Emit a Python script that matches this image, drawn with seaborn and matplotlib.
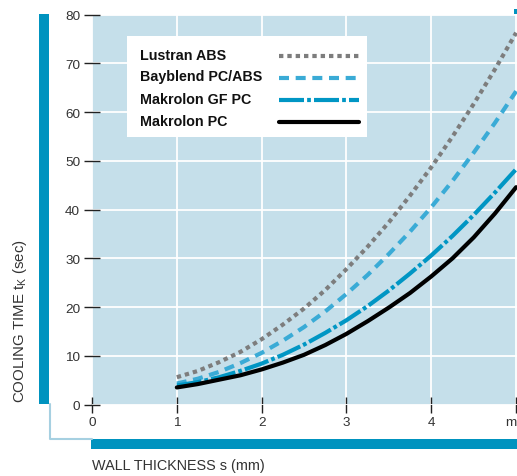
import numpy as np
import pandas as pd
import seaborn as sns
import matplotlib
matplotlib.use("Agg")
import matplotlib.pyplot as plt
from matplotlib.patches import Rectangle
from matplotlib.lines import Line2D

# Wall thickness s (mm) and cooling time t_K (sec) per material
thickness = [1.0, 1.25, 1.5, 1.75, 2.0, 2.25, 2.5, 2.75, 3.0,
             3.25, 3.5, 3.75, 4.0, 4.25, 4.5, 4.75, 5.0]
lustran_abs = [5.6, 6.9, 8.7, 10.8, 13.4, 16.4, 19.7, 23.5, 27.8,
               32.4, 37.4, 42.9, 48.7, 55.0, 61.7, 68.8, 76.3]
bayblend_pc_abs = [4.3, 5.3, 6.7, 8.5, 10.6, 13.1, 15.9, 19.1, 22.7,
                   26.6, 30.9, 35.5, 40.5, 45.9, 51.7, 57.8, 64.3]
makrolon_gf_pc = [3.9, 4.6, 5.6, 6.9, 8.4, 10.2, 12.3, 14.7, 17.3,
                  20.2, 23.4, 26.9, 30.6, 34.6, 38.9, 43.5, 48.3]
makrolon_pc = [3.5, 4.2, 5.1, 6.0, 7.2, 8.6, 10.2, 12.2, 14.5,
               17.1, 19.9, 22.9, 26.3, 30.0, 34.3, 39.2, 44.6]

materials = ["Lustran ABS", "Bayblend PC/ABS", "Makrolon GF PC", "Makrolon PC"]
series = [lustran_abs, bayblend_pc_abs, makrolon_gf_pc, makrolon_pc]

x_ticks = [0, 1, 2, 3, 4, 5]
x_tick_labels = ["0", "1", "2", "3", "4", "mm"]
y_ticks = [0, 10, 20, 30, 40, 50, 60, 70, 80]

df = pd.concat(
    [pd.DataFrame({"s": thickness, "t": vals, "material": name})
     for name, vals in zip(materials, series)],
    ignore_index=True,
)

sns.set_style("white")
plt.rcParams["font.family"] = ["Liberation Sans", "DejaVu Sans"]
plt.rcParams["lines.dash_capstyle"] = "butt"

TEXT = "#333333"
BG = "#c5dfea"
BAR = "#0093bf"
THIN = "#a6d0e1"

palette = {
    "Lustran ABS": "#7d7d7d",
    "Bayblend PC/ABS": "#3aabd6",
    "Makrolon GF PC": "#0096c4",
    "Makrolon PC": "#000000",
}
dashes = {
    "Lustran ABS": (1.05, 0.95),
    "Bayblend PC/ABS": (2.4, 1.6),
    "Makrolon GF PC": (6.0, 0.75, 0.9, 0.75),
    "Makrolon PC": "",
}
lw = 3.0

W, H = 517, 477
fig = plt.figure(figsize=(W / 100, H / 100), dpi=100)
ax = fig.add_axes([92 / W, (H - 405.5) / H, (W - 92) / W, (405.5 - 15.7) / H])
ax.set_facecolor(BG)

sns.lineplot(data=df, x="s", y="t", hue="material", style="material",
             palette=palette, dashes=dashes, linewidth=lw, legend=False,
             ax=ax, zorder=3)

ax.set_xlim(0, 5.01)
ax.set_ylim(0, 80)
ax.set_xticks(x_ticks)
ax.set_xticklabels(x_tick_labels)
ax.set_yticks(y_ticks)
ax.grid(True, color="white", linewidth=1.3)
ax.set_axisbelow(True)
for sp in ax.spines.values():
    sp.set_visible(False)
ax.tick_params(axis="both", direction="inout", length=11, width=1.0,
               color="#222222", labelcolor=TEXT, labelsize=9.7,
               bottom=True, left=True)
ax.tick_params(axis="x", pad=2.5)
ax.tick_params(axis="y", pad=3)
ax.set_xlabel("")
ax.set_ylabel("")
for lbl in ax.get_xticklabels() + ax.get_yticklabels():
    lbl.set_clip_on(False)


def fx(px):
    return px / W


def fy(py):
    return (H - py) / H


# Legend panel: labels left, line samples right
fig.patches.append(Rectangle((fx(127), fy(138)), 240 / W, 101 / H,
                             transform=fig.transFigure, facecolor="white",
                             edgecolor="none", zorder=4))
row_y = [55.5, 77.0, 99.5, 121.5]
for name, yy in zip(materials, row_y):
    fig.text(fx(140.5), fy(yy), name, fontsize=10.3, fontweight="bold",
             color="#111111", va="center", ha="left", zorder=5)
    line = Line2D([fx(279), fx(359)], [fy(yy + 1.5), fy(yy + 1.5)],
                  transform=fig.transFigure, color=palette[name],
                  linewidth=lw, zorder=5)
    if dashes[name]:
        line.set_dashes(dashes[name])
    fig.lines.append(line)

# Decorative frame bars
fig.patches.append(Rectangle((fx(39), fy(405)), 10 / W, 390 / H,
                             transform=fig.transFigure, facecolor=BAR,
                             edgecolor="none"))
fig.patches.append(Rectangle((fx(91), fy(450)), (W - 91) / W, 10 / H,
                             transform=fig.transFigure, facecolor=BAR,
                             edgecolor="none"))
fig.patches.append(Rectangle((fx(514), fy(15)), 3 / W, 5 / H,
                             transform=fig.transFigure, facecolor=BAR,
                             edgecolor="none"))
fig.lines.append(Line2D([fx(49.5), fx(49.5), fx(92)],
                        [fy(405), fy(440), fy(440)],
                        transform=fig.transFigure, color=THIN, linewidth=1.5))

fig.text(fx(20.5), fy(403), r"COOLING TIME t$_\mathregular{K}$ (sec)",
         rotation=90, ha="center", va="bottom", fontsize=10.8, color=TEXT)
fig.text(fx(92), fy(466), "WALL THICKNESS s (mm)", ha="left", va="center",
         fontsize=10.4, color=TEXT)

fig.savefig("out.png", dpi=100)
